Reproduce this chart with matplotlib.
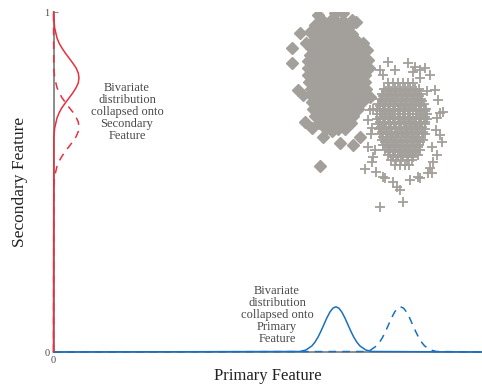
import matplotlib.pyplot as plt

plt.rcParams["font.family"] = ["Liberation Serif", "DejaVu Serif"]

# class A samples (diamonds)
diamond_points = [
    (0.630, 0.975), (0.645, 0.975), (0.660, 0.975), (0.675, 0.975),
    (0.620, 0.955), (0.635, 0.955), (0.650, 0.955), (0.665, 0.955), (0.680, 0.955), (0.690, 0.955),
    (0.612, 0.935), (0.626, 0.935), (0.640, 0.935), (0.654, 0.935), (0.668, 0.935), (0.682, 0.935), (0.696, 0.935),
    (0.605, 0.915), (0.620, 0.915), (0.635, 0.915), (0.650, 0.915), (0.665, 0.915), (0.680, 0.915), (0.695, 0.915), (0.708, 0.915),
    (0.600, 0.895), (0.615, 0.895), (0.630, 0.895), (0.645, 0.895), (0.660, 0.895), (0.675, 0.895), (0.690, 0.895), (0.705, 0.895), (0.715, 0.895),
    (0.598, 0.875), (0.612, 0.875), (0.627, 0.875), (0.642, 0.875), (0.657, 0.875), (0.672, 0.875), (0.687, 0.875), (0.702, 0.875), (0.716, 0.875),
    (0.595, 0.855), (0.610, 0.855), (0.625, 0.855), (0.640, 0.855), (0.655, 0.855), (0.670, 0.855), (0.685, 0.855), (0.700, 0.855), (0.715, 0.855), (0.722, 0.855),
    (0.593, 0.835), (0.607, 0.835), (0.622, 0.835), (0.637, 0.835), (0.652, 0.835), (0.667, 0.835), (0.682, 0.835), (0.697, 0.835), (0.712, 0.835), (0.724, 0.835),
    (0.595, 0.815), (0.610, 0.815), (0.625, 0.815), (0.640, 0.815), (0.655, 0.815), (0.670, 0.815), (0.685, 0.815), (0.700, 0.815), (0.715, 0.815), (0.727, 0.815),
    (0.597, 0.795), (0.612, 0.795), (0.627, 0.795), (0.642, 0.795), (0.657, 0.795), (0.672, 0.795), (0.687, 0.795), (0.702, 0.795), (0.717, 0.795), (0.728, 0.795),
    (0.600, 0.775), (0.615, 0.775), (0.630, 0.775), (0.645, 0.775), (0.660, 0.775), (0.675, 0.775), (0.690, 0.775), (0.705, 0.775), (0.720, 0.775), (0.730, 0.775),
    (0.602, 0.755), (0.617, 0.755), (0.632, 0.755), (0.647, 0.755), (0.662, 0.755), (0.677, 0.755), (0.692, 0.755), (0.707, 0.755), (0.722, 0.755),
    (0.603, 0.735), (0.618, 0.735), (0.633, 0.735), (0.648, 0.735), (0.663, 0.735), (0.678, 0.735), (0.693, 0.735), (0.708, 0.735), (0.720, 0.735),
    (0.605, 0.715), (0.620, 0.715), (0.635, 0.715), (0.650, 0.715), (0.665, 0.715), (0.680, 0.715), (0.695, 0.715), (0.710, 0.715),
    (0.610, 0.695), (0.625, 0.695), (0.640, 0.695), (0.655, 0.695), (0.670, 0.695), (0.685, 0.695), (0.700, 0.695),
    (0.620, 0.675), (0.635, 0.675), (0.650, 0.675), (0.665, 0.675), (0.680, 0.675), (0.695, 0.675),
    (0.635, 0.655), (0.650, 0.655), (0.665, 0.655), (0.680, 0.655),
    # stragglers around the core
    (0.617, 0.991), (0.657, 0.997), (0.676, 0.997), (0.697, 0.976), (0.706, 0.971),
    (0.611, 0.962), (0.634, 0.956), (0.575, 0.938), (0.599, 0.941), (0.589, 0.909),
    (0.556, 0.894), (0.556, 0.850), (0.571, 0.771), (0.582, 0.756), (0.722, 0.909),
    (0.732, 0.888), (0.734, 0.859), (0.736, 0.835), (0.739, 0.750), (0.587, 0.676),
    (0.603, 0.659), (0.629, 0.632), (0.650, 0.650), (0.669, 0.615), (0.699, 0.609),
    (0.715, 0.632), (0.680, 0.662), (0.669, 0.676), (0.622, 0.547),
]

# class B samples (plus signs)
plus_points = [
    (0.780, 0.790), (0.792, 0.790), (0.804, 0.790), (0.816, 0.790), (0.828, 0.790), (0.840, 0.790),
    (0.772, 0.775), (0.784, 0.775), (0.796, 0.775), (0.808, 0.775), (0.820, 0.775), (0.832, 0.775), (0.844, 0.775), (0.852, 0.775),
    (0.766, 0.760), (0.778, 0.760), (0.790, 0.760), (0.802, 0.760), (0.814, 0.760), (0.826, 0.760), (0.838, 0.760), (0.850, 0.760), (0.857, 0.760),
    (0.762, 0.745), (0.774, 0.745), (0.786, 0.745), (0.798, 0.745), (0.810, 0.745), (0.822, 0.745), (0.834, 0.745), (0.846, 0.745), (0.858, 0.745),
    (0.758, 0.730), (0.770, 0.730), (0.782, 0.730), (0.794, 0.730), (0.806, 0.730), (0.818, 0.730), (0.830, 0.730), (0.842, 0.730), (0.854, 0.730), (0.865, 0.730),
    (0.756, 0.715), (0.768, 0.715), (0.780, 0.715), (0.792, 0.715), (0.804, 0.715), (0.816, 0.715), (0.828, 0.715), (0.840, 0.715), (0.852, 0.715), (0.864, 0.715), (0.870, 0.715),
    (0.755, 0.700), (0.767, 0.700), (0.779, 0.700), (0.791, 0.700), (0.803, 0.700), (0.815, 0.700), (0.827, 0.700), (0.839, 0.700), (0.851, 0.700), (0.863, 0.700), (0.871, 0.700),
    (0.756, 0.685), (0.768, 0.685), (0.780, 0.685), (0.792, 0.685), (0.804, 0.685), (0.816, 0.685), (0.828, 0.685), (0.840, 0.685), (0.852, 0.685), (0.864, 0.685), (0.872, 0.685),
    (0.758, 0.670), (0.770, 0.670), (0.782, 0.670), (0.794, 0.670), (0.806, 0.670), (0.818, 0.670), (0.830, 0.670), (0.842, 0.670), (0.854, 0.670), (0.866, 0.670),
    (0.760, 0.655), (0.772, 0.655), (0.784, 0.655), (0.796, 0.655), (0.808, 0.655), (0.820, 0.655), (0.832, 0.655), (0.844, 0.655), (0.856, 0.655), (0.868, 0.655),
    (0.763, 0.640), (0.775, 0.640), (0.787, 0.640), (0.799, 0.640), (0.811, 0.640), (0.823, 0.640), (0.835, 0.640), (0.847, 0.640), (0.859, 0.640), (0.867, 0.640),
    (0.766, 0.625), (0.778, 0.625), (0.790, 0.625), (0.802, 0.625), (0.814, 0.625), (0.826, 0.625), (0.838, 0.625), (0.850, 0.625), (0.862, 0.625),
    (0.770, 0.610), (0.782, 0.610), (0.794, 0.610), (0.806, 0.610), (0.818, 0.610), (0.830, 0.610), (0.842, 0.610), (0.854, 0.610),
    (0.774, 0.595), (0.786, 0.595), (0.798, 0.595), (0.810, 0.595), (0.822, 0.595), (0.834, 0.595), (0.846, 0.595), (0.855, 0.595),
    (0.780, 0.580), (0.792, 0.580), (0.804, 0.580), (0.816, 0.580), (0.828, 0.580), (0.840, 0.580), (0.850, 0.580),
    (0.788, 0.565), (0.800, 0.565), (0.812, 0.565), (0.824, 0.565), (0.836, 0.565),
    (0.796, 0.550), (0.808, 0.550), (0.820, 0.550), (0.830, 0.550),
    # dense middle, between the rows above
    (0.775, 0.7675), (0.787, 0.7675), (0.799, 0.7675), (0.811, 0.7675), (0.823, 0.7675), (0.835, 0.7675), (0.847, 0.7675),
    (0.770, 0.7525), (0.782, 0.7525), (0.794, 0.7525), (0.806, 0.7525), (0.818, 0.7525), (0.830, 0.7525), (0.842, 0.7525), (0.852, 0.7525),
    (0.766, 0.7375), (0.778, 0.7375), (0.790, 0.7375), (0.802, 0.7375), (0.814, 0.7375), (0.826, 0.7375), (0.838, 0.7375), (0.850, 0.7375), (0.860, 0.7375),
    (0.762, 0.7225), (0.774, 0.7225), (0.786, 0.7225), (0.798, 0.7225), (0.810, 0.7225), (0.822, 0.7225), (0.834, 0.7225), (0.846, 0.7225), (0.858, 0.7225),
    (0.761, 0.7075), (0.773, 0.7075), (0.785, 0.7075), (0.797, 0.7075), (0.809, 0.7075), (0.821, 0.7075), (0.833, 0.7075), (0.845, 0.7075), (0.857, 0.7075), (0.866, 0.7075),
    (0.761, 0.6925), (0.773, 0.6925), (0.785, 0.6925), (0.797, 0.6925), (0.809, 0.6925), (0.821, 0.6925), (0.833, 0.6925), (0.845, 0.6925), (0.857, 0.6925), (0.867, 0.6925),
    (0.762, 0.6775), (0.774, 0.6775), (0.786, 0.6775), (0.798, 0.6775), (0.810, 0.6775), (0.822, 0.6775), (0.834, 0.6775), (0.846, 0.6775), (0.858, 0.6775), (0.868, 0.6775),
    (0.764, 0.6625), (0.776, 0.6625), (0.788, 0.6625), (0.800, 0.6625), (0.812, 0.6625), (0.824, 0.6625), (0.836, 0.6625), (0.848, 0.6625), (0.860, 0.6625),
    (0.767, 0.6475), (0.779, 0.6475), (0.791, 0.6475), (0.803, 0.6475), (0.815, 0.6475), (0.827, 0.6475), (0.839, 0.6475), (0.851, 0.6475), (0.862, 0.6475),
    (0.770, 0.6325), (0.782, 0.6325), (0.794, 0.6325), (0.806, 0.6325), (0.818, 0.6325), (0.830, 0.6325), (0.842, 0.6325), (0.854, 0.6325),
    (0.774, 0.6175), (0.786, 0.6175), (0.798, 0.6175), (0.810, 0.6175), (0.822, 0.6175), (0.834, 0.6175), (0.846, 0.6175), (0.856, 0.6175),
    (0.778, 0.6025), (0.790, 0.6025), (0.802, 0.6025), (0.814, 0.6025), (0.826, 0.6025), (0.838, 0.6025), (0.850, 0.6025),
    (0.784, 0.5875), (0.796, 0.5875), (0.808, 0.5875), (0.820, 0.5875), (0.832, 0.5875), (0.844, 0.5875),
    (0.792, 0.5725), (0.804, 0.5725), (0.816, 0.5725), (0.828, 0.5725), (0.840, 0.5725),
    # stragglers around the core
    (0.780, 0.853), (0.827, 0.850), (0.844, 0.838), (0.867, 0.835), (0.762, 0.829),
    (0.797, 0.829), (0.839, 0.824), (0.855, 0.829), (0.879, 0.815), (0.855, 0.806),
    (0.871, 0.768), (0.770, 0.815), (0.890, 0.771), (0.897, 0.741), (0.902, 0.703),
    (0.909, 0.706), (0.895, 0.688), (0.893, 0.653), (0.902, 0.638), (0.907, 0.618),
    (0.883, 0.603), (0.895, 0.579), (0.886, 0.559), (0.879, 0.541), (0.727, 0.538),
    (0.743, 0.559), (0.746, 0.574), (0.874, 0.526), (0.883, 0.526), (0.762, 0.426),
    (0.816, 0.441), (0.802, 0.485), (0.792, 0.500), (0.809, 0.476), (0.774, 0.512),
    (0.832, 0.506), (0.855, 0.512), (0.734, 0.682), (0.734, 0.603), (0.740, 0.640),
    (0.745, 0.715), (0.739, 0.712), (0.743, 0.659), (0.729, 0.741), (0.750, 0.594),
    (0.752, 0.530), (0.769, 0.515), (0.850, 0.515),
]

# marginal densities read along each axis
blue_solid_x = [0.0, 0.575, 0.589, 0.603, 0.610, 0.617, 0.624, 0.631, 0.638, 0.645, 0.652, 0.659,
                0.666, 0.673, 0.680, 0.687, 0.694, 0.701, 0.708, 0.715, 0.729, 0.743, 1.0]
blue_solid_y = [0.0, 0.0015, 0.0058, 0.018, 0.0288, 0.0432, 0.0609, 0.0807, 0.1004, 0.1174, 0.1289, 0.133,
                0.1289, 0.1174, 0.1004, 0.0807, 0.0609, 0.0432, 0.0288, 0.018, 0.0058, 0.0015, 0.0]
blue_dashed_x = [0.0, 0.726, 0.740, 0.754, 0.761, 0.768, 0.775, 0.782, 0.789, 0.796, 0.803, 0.810,
                 0.817, 0.824, 0.831, 0.838, 0.845, 0.852, 0.859, 0.866, 0.880, 0.894, 1.0]
blue_dashed_y = [0.0, 0.0015, 0.0058, 0.018, 0.0288, 0.0432, 0.0609, 0.0807, 0.1004, 0.1174, 0.1289, 0.133,
                 0.1289, 0.1174, 0.1004, 0.0807, 0.0609, 0.0432, 0.0288, 0.018, 0.0058, 0.0015, 0.0]

red_solid_y = [0.0, 0.629, 0.658, 0.688, 0.703, 0.718, 0.732, 0.747, 0.762, 0.777, 0.791, 0.806,
               0.821, 0.836, 0.850, 0.865, 0.880, 0.895, 0.909, 0.924, 0.954, 0.983, 1.0]
red_solid_x = [0.0, 0.0007, 0.0026, 0.0081, 0.0129, 0.0193, 0.0272, 0.0361, 0.0449, 0.0525, 0.0577, 0.0595,
               0.0577, 0.0525, 0.0449, 0.0361, 0.0272, 0.0193, 0.0129, 0.0081, 0.0026, 0.0007, 0.0]
red_dashed_y = [0.0, 0.488, 0.517, 0.546, 0.561, 0.575, 0.590, 0.604, 0.619, 0.633, 0.648, 0.662,
                0.677, 0.691, 0.706, 0.720, 0.735, 0.749, 0.764, 0.778, 0.807, 0.836, 1.0]
red_dashed_x = [0.0, 0.0007, 0.0026, 0.0081, 0.0129, 0.0193, 0.0272, 0.0361, 0.0449, 0.0525, 0.0577, 0.0595,
                0.0577, 0.0525, 0.0449, 0.0361, 0.0272, 0.0193, 0.0129, 0.0081, 0.0026, 0.0007, 0.0]

GREY = "#a39f9b"
BLUE = "#1a6fc0"
RED = "#e8303e"
TEXT = "#4a4a4a"

fig = plt.figure(figsize=(4.82, 3.85), dpi=100)
ax = fig.add_axes([0.111, 0.0857, 0.889, 0.883])

dx, dy = zip(*diamond_points)
ax.plot(dx, dy, linestyle="none", marker="D", ms=6.0, mew=1.0, mec=GREY, color=GREY, zorder=2)
px, py = zip(*plus_points)
ax.plot(px, py, linestyle="none", marker="+", ms=7.0, mew=1.3, color=GREY, zorder=3)

ax.plot(blue_solid_x, blue_solid_y, color=BLUE, lw=1.1, zorder=5, clip_on=False)
ax.plot(blue_dashed_x, blue_dashed_y, color=BLUE, lw=1.1, ls=(0, (5, 4)), zorder=5, clip_on=False)
ax.plot(red_solid_x, red_solid_y, color=RED, lw=1.1, zorder=5, clip_on=False)
ax.plot(red_dashed_x, red_dashed_y, color=RED, lw=1.1, ls=(0, (5, 4)), zorder=5, clip_on=False)

ax.set_xlim(0, 1)
ax.set_ylim(0, 1)
for side in ("top", "right"):
    ax.spines[side].set_visible(False)
for side in ("left", "bottom"):
    ax.spines[side].set_color("#8c8c8c")
    ax.spines[side].set_linewidth(1.4)

ax.set_xticks([0])
ax.set_yticks([0, 1])
ax.tick_params(direction="in", length=3, width=0.8, color="#8c8c8c",
               labelsize=7.5, labelcolor=TEXT, pad=3)

ax.set_xlabel("Primary Feature", fontsize=12, color="#222222", labelpad=2)
ax.set_ylabel("Secondary Feature", fontsize=12.5, color="#222222", labelpad=12)

ax.text(0.1715, 0.706, "Bivariate\ndistribution\ncollapsed onto\nSecondary\nFeature",
        ha="center", va="center", fontsize=9, color=TEXT, linespacing=1.0)
ax.text(0.5216, 0.109, "Bivariate\ndistribution\ncollapsed onto\nPrimary\nFeature",
        ha="center", va="center", fontsize=9, color=TEXT, linespacing=1.0)

fig.savefig("out.png", dpi=100)
